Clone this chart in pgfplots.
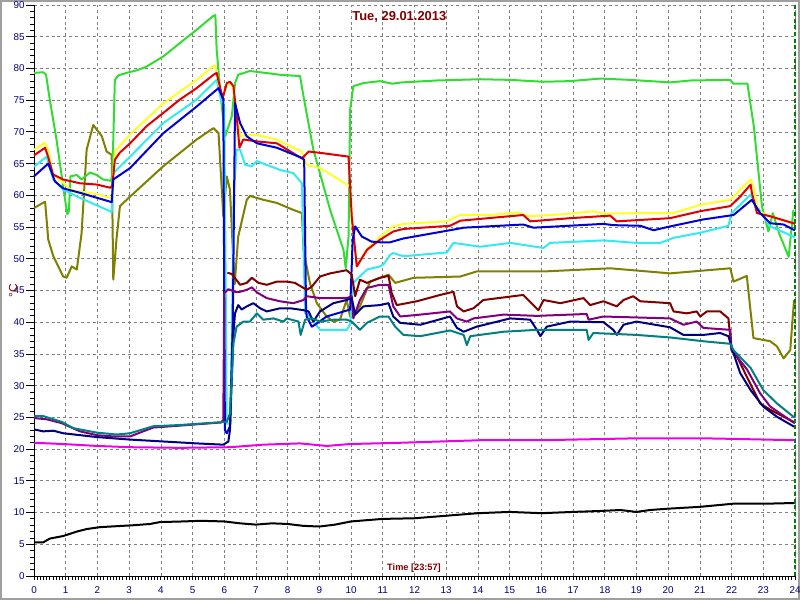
\documentclass[border=0pt]{standalone}
\usepackage{pgfplots}
\pgfplotsset{compat=1.18}
\usepackage{fontspec}
\setmainfont{Liberation Sans}
\definecolor{cgreen}{RGB}{50,220,50}
\definecolor{cyellow}{RGB}{255,255,40}
\definecolor{cred}{RGB}{225,0,0}
\definecolor{ccyan}{RGB}{50,235,240}
\definecolor{cblue}{RGB}{0,0,215}
\definecolor{colive}{RGB}{128,128,0}
\definecolor{cmaroon}{RGB}{128,0,0}
\definecolor{cpurple}{RGB}{128,0,128}
\definecolor{cnavy}{RGB}{0,0,128}
\definecolor{cteal}{RGB}{0,128,128}
\definecolor{cmagenta}{RGB}{235,0,235}
\definecolor{darkred}{RGB}{128,0,0}
\definecolor{dgreen}{RGB}{0,128,0}
\begin{document}
\begin{tikzpicture}
\path[use as bounding box] (-25.5pt,-18pt) rectangle (574.5pt,432pt);
\draw[gray!75, line width=1.2pt] (-24.9pt,-17.4pt) rectangle (573.9pt,431.4pt);
\begin{axis}[at={(0,0)}, anchor=south west, scale only axis,
  width=570.75pt, height=428.25pt,
  xmin=0, xmax=24, ymin=0, ymax=90,
  xtick={0,1,...,24}, ytick={0,5,...,90},
  minor x tick num=9, minor y tick num=4,
  tick align=outside, major tick length=6pt, minor tick length=3pt,
  xtick style={/pgfplots/major tick length=3pt},
  axis x line*=bottom, axis y line*=left,
  axis line style={black, line width=0.6pt},
  grid=major, major grid style={gray, dash pattern=on 2.2pt off 2.2pt, line width=0.5pt},
  tick style={black, line width=0.6pt},
  ticklabel style={font=\fontsize{7.4}{8}\selectfont, text=cnavy},
  yticklabel style={xshift=2.5pt},
  xticklabel style={yshift=1.5pt},
  /pgf/number format/assume math mode=true,
  clip=false,
  every axis plot/.append style={line width=1.5pt, line join=round, no markers}]
% magenta
\addplot[cmagenta] coordinates {(0,21)(0.92,20.8)(1.98,20.5)(3.03,20.3)(4.6,20.2)(6.18,20.3)(7.23,20.7)(8.39,20.9)(9.23,20.5)(9.97,20.8)(11.55,21)(14.07,21.4)(16,21.4)(19.0,21.7)(21.1,21.7)(22.17,21.6)(24,21.4)};
% black
\addplot[black] coordinates {(0,5.3)(0.29,5.3)(0.5,5.9)(0.92,6.3)(1.35,7)(1.66,7.4)(2.08,7.7)(3.13,8)(3.66,8.2)(3.97,8.5)(4.71,8.6)(5.24,8.7)(6,8.6)(6.5,8.3)(7,8.1)(7.5,8.3)(8,8.2)(8.5,7.9)(9,7.8)(9.5,8.1)(10,8.6)(10.5,8.8)(11,9)(12,9.1)(13,9.5)(14,9.9)(15,10.1)(16,9.9)(17,10.1)(17.86,10.25)(18.49,10.4)(19.0,10.1)(19.43,10.4)(19.96,10.6)(21.0,10.9)(22.06,11.4)(23.1,11.4)(23.95,11.5)(24,11.6)};
% olive
\addplot[colive] coordinates {(0,58)(0.35,59)(0.45,53)(0.61,50.4)(0.92,47.2)(1.03,47)(1.19,48.8)(1.35,48.3)(1.5,54)(1.66,67.2)(1.87,71.1)(2.14,69.3)(2.29,66.9)(2.45,66.4)(2.5,46.7)(2.6,53)(2.71,58.3)(3.03,59.8)(4.08,64.6)(5.13,68.8)(5.66,70.6)(5.82,69.8)(5.97,56.7)(6.08,63)(6.18,60.9)(6.27,51.4)(6.33,46)(6.44,53.5)(6.71,59.3)(6.81,59.9)(7.23,59.3)(7.66,58.8)(8.18,57.7)(8.45,57.2)(8.5,51.4)(8.7,46.2)(8.92,43)(9.23,40.9)(9.44,40.1)(9.65,40.4)(9.86,43.5)(9.97,40.9)(10.07,41.2)(10.28,42.5)(10.6,46.4)(11.18,47.5)(11.39,46.2)(11.97,47)(13.44,47.2)(13.96,48)(16.07,48)(18.17,48.5)(20.06,47.7)(21.96,48.5)(22.06,46.4)(22.48,47.3)(22.69,37.5)(23.22,37)(23.43,36.2)(23.64,34.3)(23.85,35.6)(23.97,43.5)};
% green
\addplot[cgreen] coordinates {(0,79.3)(0.3,79.4)(0.38,79)(0.5,75)(0.71,68.8)(0.92,61.4)(1.05,57)(1.1,57.5)(1.15,63)(1.35,63.2)(1.5,62.5)(1.77,63.6)(1.98,63.2)(2.18,62.5)(2.42,62.3)(2.47,63)(2.55,78.2)(2.66,78.9)(2.92,79.3)(3.24,79.7)(3.55,80.3)(4.08,81.9)(4.6,84)(5.13,86.1)(5.66,88.3)(5.72,88.4)(5.76,83)(5.9,75)(6.03,69.3)(6.24,72.5)(6.34,77.7)(6.44,79)(6.81,79.6)(7.13,79.4)(7.76,79)(8.39,78.8)(8.5,75.6)(8.81,67.2)(9.34,57.7)(9.76,51.4)(9.83,48.5)(9.92,53.5)(9.97,73.5)(10.07,77.2)(10.39,77.7)(10.91,78)(11.3,77.6)(11.6,77.8)(12.7,78.1)(14.07,78.3)(15.0,78.2)(16.06,77.9)(16.9,78.0)(17.86,78.4)(18.8,78.2)(20.06,77.8)(20.7,78.1)(21.96,78.2)(22.05,77.6)(22.5,77.6)(22.7,70.9)(22.96,58.2)(23.16,54.3)(23.3,57.2)(23.5,54)(23.8,50.3)(23.95,57.7)};
% cyan
\addplot[ccyan] coordinates {(0,64.5)(0.4,66.1)(0.61,62.5)(0.92,60.9)(1.45,59.6)(2.4,57.5)(2.45,57.3)(2.5,63.5)(3.03,66.1)(4.08,71.4)(5.13,75.1)(5.76,78.2)(5.9,75)(6.0,74)(6.08,24)(6.2,24)(6.3,60)(6.39,67.2)(6.5,67.2)(6.66,64.8)(6.87,64.6)(7.03,65.4)(7.34,64.8)(7.76,64)(8.18,63.5)(8.45,61.9)(8.55,41.4)(8.6,41.4)(9.02,38.8)(9.86,38.8)(9.97,39.6)(10.07,46.2)(10.5,48.3)(10.91,48.8)(11.02,49.1)(11.23,50.6)(11.33,50.9)(11.65,50.4)(13.02,51)(13.23,52.5)(14.07,51.9)(15.02,52.5)(16.07,51.7)(16.27,52.5)(17.96,52.9)(19.0,52.5)(19.75,52.5)(20.17,53.3)(21.01,54.1)(21.9,55.2)(22.0,57.2)(22.6,60.1)(22.8,58.3)(23.22,55.1)(23.95,53.5)(24,53.4)};
% yellow
\addplot[cyellow] coordinates {(0,67.2)(0.35,68.3)(0.45,67)(0.6,63.3)(0.92,62)(1.14,60.9)(1.45,60.6)(1.98,60.2)(2.4,59.6)(2.45,59.6)(2.55,66.9)(3.03,69.6)(4.08,74.5)(5.13,78.2)(5.66,80.4)(5.71,80.5)(5.85,77)(5.95,75.5)(6.1,77.5)(6.25,77.5)(6.34,75.3)(6.5,69.3)(6.66,69.5)(7.03,69.5)(7.66,68.8)(7.97,68)(8.45,66.9)(8.6,64.8)(9.02,64.3)(9.97,61.4)(10.05,55)(10.18,48.8)(10.5,51.5)(10.91,53.5)(11.33,55.1)(11.65,55.5)(13.02,55.9)(13.44,56.9)(14.38,56.9)(15.22,57.3)(15.65,56.7)(16.91,57.1)(17.64,57.5)(17.96,57.1)(19.0,57.2)(20.17,57.2)(21.01,58.5)(21.96,59.3)(22.27,60.9)(22.6,62.5)(22.69,61.4)(22.85,57.5)(23.22,56.7)(23.95,55.6)(24,55.5)};
% red
\addplot[cred] coordinates {(0,66.3)(0.35,67.5)(0.45,66)(0.6,63.3)(0.92,62.5)(1.45,61.9)(1.98,61.7)(2.4,61.2)(2.47,61.5)(2.55,65.6)(2.7,66.7)(3.03,68.2)(3.55,70.9)(4.08,73)(4.6,75.1)(5.13,76.9)(5.66,79)(5.76,79.3)(5.95,75.3)(6.08,77.7)(6.18,77.9)(6.29,77.2)(6.39,72.5)(6.48,67.5)(6.6,68.8)(7.03,68.5)(7.66,68.2)(8.45,65.8)(8.66,66.9)(9.02,66.7)(9.92,66.1)(10.02,56.7)(10.18,48.8)(10.5,51.4)(10.91,53)(11.33,54.3)(11.65,54.7)(13.12,55.2)(13.44,56)(15.43,56.9)(15.65,55.9)(16.91,56.4)(18.17,56.8)(18.38,55.9)(20.06,56.4)(21.01,57.5)(21.96,58.3)(22.27,59.8)(22.6,61.7)(22.64,60.4)(22.8,57.2)(23.22,56.7)(23.95,55.6)(24,55.5)};
% blue
\addplot[cblue] coordinates {(0,63)(0.45,65)(0.66,62.2)(0.92,61.1)(1.45,60.4)(2.4,59)(2.45,58.9)(2.5,62.5)(3.03,64.3)(4.08,69.8)(5.13,74)(5.82,76.9)(5.97,75.1)(6.02,23)(6.08,22.5)(6.18,23.6)(6.27,40)(6.34,74.5)(6.5,71.4)(6.71,69.3)(7.03,68.2)(7.66,67.5)(8.45,65.9)(8.52,65.6)(8.58,42)(8.6,40.9)(8.76,39.3)(8.86,39.6)(9.23,40.9)(9.97,42)(10.05,53)(10.13,55.1)(10.34,53.5)(10.65,52.7)(10.91,52.6)(11.23,52.6)(11.65,53.2)(13.23,54.6)(13.55,54.9)(15.43,55.4)(15.75,54.9)(17.96,55.5)(18.27,55.3)(19.12,55.2)(19.54,54.5)(20.06,55.1)(21.11,56.2)(22.06,56.9)(22.64,59.3)(22.9,57.2)(23.22,55.6)(23.64,55.4)(23.95,54.6)(24,54.5)};
% maroon
\addplot[cmaroon] coordinates {(6.1,47.8)(6.24,47.6)(6.5,45.9)(6.71,46.2)(6.87,47)(7.08,46.2)(7.34,45.9)(7.66,46.4)(7.97,46.4)(8.23,46.2)(8.5,45.4)(8.6,45.1)(8.76,45.6)(9.02,47.2)(9.34,47.7)(9.86,48.2)(10.02,47.5)(10.13,44.1)(10.28,46.7)(10.5,46.2)(10.91,47)(11.18,47.3)(11.28,44.6)(11.44,42.7)(12.07,43.3)(12.81,44.3)(13.23,44.8)(13.34,42.5)(13.55,41.7)(13.86,42.2)(14.17,43.5)(15.43,44.3)(15.91,41.9)(16.07,43.5)(16.6,43)(17.33,43.8)(17.54,42.7)(17.96,43.3)(18.38,42.5)(18.59,43.5)(18.9,44.1)(19.12,43.3)(20.06,43)(20.17,41.7)(20.59,41.4)(20.9,41.7)(21.01,40.9)(21.22,41.7)(21.64,41.7)(21.9,40.6)(22.0,35.6)(22.17,34.6)(22.48,31.4)(22.9,27.2)(23.22,26.2)(23.95,24.3)(24,24.2)};
% purple
\addplot[cpurple] coordinates {(0,24.9)(0.4,24.7)(0.87,24.1)(1.45,22.8)(1.98,22.2)(2.5,22)(3.03,22)(3.76,23.4)(4.6,23.7)(5.9,24.2)(5.97,24.6)(6.0,44.6)(6.13,45.2)(6.34,44.8)(6.5,44.8)(6.71,45.1)(6.87,45.5)(7.03,44.7)(7.34,43.8)(7.76,43.3)(8.18,43)(8.5,43.5)(8.6,44.1)(9.02,43.8)(9.86,43.8)(10.02,44.1)(10.07,40.6)(10.28,43.5)(10.5,45.4)(10.91,45.9)(11.18,45.9)(11.33,42.5)(11.55,40.9)(12.18,41.2)(13.12,41.7)(13.34,40.6)(13.65,40.1)(13.86,40.6)(14.81,41.2)(15.86,41)(17.43,41.3)(17.49,40.4)(17.96,40.9)(20.06,40.6)(20.48,39.6)(20.9,40.1)(21.11,39.1)(21.96,38.8)(22.0,35.6)(22.48,32.6)(22.9,28.8)(23.22,26.7)(23.95,24.2)(24,24.1)};
% navy
\addplot[cnavy] coordinates {(0,23.1)(0.29,22.8)(0.61,22.9)(0.92,22.5)(1.98,21.9)(3.03,21.5)(4.08,21.2)(5.13,20.9)(5.97,20.7)(6.13,21.2)(6.18,23)(6.29,38.3)(6.34,41.4)(6.44,42.7)(6.55,42)(6.71,42.5)(6.92,43)(7.13,42.2)(7.34,41.7)(7.76,42.2)(8.08,42.2)(8.5,41.9)(8.66,41.7)(8.81,40.1)(9.02,41.7)(9.44,43)(9.86,43.5)(10.02,43.8)(10.13,41.2)(10.39,42.5)(10.91,42.7)(11.18,43)(11.33,40.9)(11.55,39.9)(12.18,39.6)(13.12,40.9)(13.34,39.1)(13.55,38.5)(13.96,39.3)(15.02,40.6)(15.65,40.4)(15.86,38.8)(15.97,37.8)(16.17,39.3)(16.91,40.1)(17.96,40)(18.27,38.8)(18.38,38)(18.59,39.6)(19.0,40.1)(20.06,39.2)(20.48,38)(21.11,38)(21.64,38.3)(21.9,37.8)(22.06,35.1)(22.27,32)(22.6,29.3)(23.0,26.7)(23.43,25.1)(23.95,23.6)(24,23.5)};
% teal
\addplot[cteal] coordinates {(0,25.2)(0.29,25.2)(0.87,24.3)(1.24,23.3)(1.98,22.6)(2.61,22.3)(3.03,22.5)(3.76,23.6)(4.6,23.8)(6.08,24.3)(6.18,25.6)(6.29,36.7)(6.39,39.3)(6.6,40.1)(6.81,40.1)(7.03,41.4)(7.23,40.4)(7.55,40.6)(7.87,40.1)(7.97,40.6)(8.34,40.1)(8.41,38)(8.55,40.4)(8.76,40.6)(9.02,40.1)(9.44,40.4)(9.86,40.4)(10.02,40.1)(10.28,38.8)(10.5,39.9)(10.91,40.9)(11.18,40.9)(11.39,39.3)(11.65,38)(12.18,37.8)(13.12,38.7)(13.55,38)(13.65,36.4)(13.76,37.8)(14.81,38.5)(15.86,38.8)(17.43,38.8)(17.49,37.2)(17.64,38.3)(19.0,38)(20.06,37.6)(21.11,37)(21.96,36.6)(22.06,35.6)(22.6,32.8)(23.0,29.3)(23.43,27.2)(23.95,25.1)(24,25)};
% current time marker
\addplot[dgreen, line width=0.8pt, dash pattern=on 3pt off 2pt] coordinates {(24,0)(24,90)};
\end{axis}
\node[font=\bfseries\fontsize{9.7}{11}\selectfont, text=darkred] at (274pt,419.3pt) {Tue, 29.01.2013};
\node[font=\bfseries\fontsize{6.9}{8}\selectfont, text=darkred] at (285pt,6pt) {Time [23:57]};
\node[rotate=90, font=\fontsize{9}{10}\selectfont, text=darkred] at (-15.5pt,214pt) {°C};
\end{tikzpicture}
\end{document}
